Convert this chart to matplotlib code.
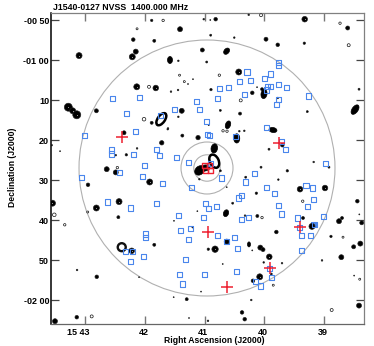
import numpy as np
import matplotlib
matplotlib.use("Agg")
import matplotlib.pyplot as plt
from matplotlib.collections import EllipseCollection
from matplotlib.patches import Ellipse
from matplotlib.transforms import ScaledTranslation

plt.rcParams['font.family'] = ['Liberation Sans', 'DejaVu Sans']

TITLE = "J1540-0127 NVSS  1400.000 MHz"
XLABEL = "Right Ascension (J2000)"
YLABEL = "Declination (J2000)"
ra_ticks = [0, 60, 120, 180, 240]               # seconds of time west of 15 43 00
ra_labels = ["15 43", "42", "41", "40", "39"]
dec_ticks = [50, 60, 70, 80, 90, 100, 110, 120] # arcmin south of 00 00
dec_labels = ["-00 50", "-01 00", "10", "20", "30", "40", "50", "-02 00"]

# Catalogue boxes: (RA seconds west of 15 43, Dec arcmin south)
box_ra = [27.8,54.3,40.9,89.8,75.1,50.7,-1.3,26.1,26.8,48.9,71.1,74.8,91.5,59,33.9,103.9,
          193.7,193.7,162.5,186.6,179.6,154.8,165.8,144.4,134.4,194,202.4,186.6,182.9,181.9,
          159.8,133.1,112,114.6,194,191.7,224.5,122,182.3,123,125.3,151.2,197,200.7,241.6,
          170.5,-4.3,57.3,77.8,22.5,45.9,71.1,93.9,95.5,60.3,60.3,103.9,39.9,47.9,45.9,58.7,
          100.5,94.5,97.2,136.7,161.2,106.7,182.3,190.3,221.8,228.8,229.5,223.5,193.7,196.7,
          157.2,153.8,132,123.6,120.3,118.3,156.8,164.5,212.8,239.2,230.1,215.1,216.8,226.5,
          106.2,133.1,150.4,141.9,153,217.1,152.2,119.8,185.6,187.3,170.9,175.6,125.6]
box_dec = [69.6,69.4,73.3,72.3,73.8,77.8,78.9,82.5,83.5,83.7,82.4,83.8,84.3,86.3,88.1,85.7,
           60.6,61.4,63,63.5,64.6,65.4,65.2,66.8,67.2,66.2,66.8,66.7,66.7,67.5,
           68.7,69.6,70.3,72.4,69.8,71.1,69,75.3,76.8,78.7,78.9,79.2,80.4,82.4,85.8,
           88.3,89.3,89.1,90.8,95.5,97,95.9,98.8,102.7,103.5,104.3,104.9,107.9,107.8,110.3,109.2,
           109.9,113.7,116,89.5,90.5,91.8,91.8,93.3,91.3,92,94.9,96.6,96.3,98.5,
           93.9,94.5,96.7,97.2,95.9,99.4,99.8,99.4,99.5,99.1,101.2,101.8,103.9,103.8,
           102.1,103.9,104.3,105.4,107.1,107.6,112.8,113.7,112.2,114.3,115.3,116.5,85.8]
shaded_ra = [151.2, 230.1, 141.9]
shaded_dec = [79.2, 101.2, 105.4]

core_ra = [120, 124.6, 121, 126]
core_dec = [86.4, 86.4, 87.7, 87.7]

cross_ra = [36.9, 194.7, 123.3, 216.1, 185.6, 142.7]
cross_dec = [79.2, 80.8, 103, 101.8, 112.1, 116.8]

# Compact radio sources: position and apparent diameter (arcmin)
src_ra = [66.7,95.2,48.2,69.3,-6.3,50.7,47.2,93.5,51.7,70.8,86.1,93.2,-17.1,-12.7,-8.6,11.1,96.9,93.5,
          66.7,83.1,38.9,97.5,76.8,-33.8,-25.4,52,30.6,41.2,21.5,30.6,2.7,64.7,-33,11.1,33.9,33.2,89.1,
          69.3,46.6,-8.3,11.5,88.8,101.9,-8.6,119,125.6,131,164.2,220.5,263.7,126,149.7,181.6,193.4,220.1,
          117.6,122,154.2,108.2,103.2,126.3,167.8,177.6,172.6,193.4,275.1,223.1,135.7,155.5,124,154.8,159.8,
          113.3,198,184.6,229.5,244.9,176.6,203,135.7,114.6,82.8,161.2,142.1,148.1,112.6,107.9,123.6,130.4,
          142.1,138.1,116.3,194,171.9,215.8,240.9,273.4,172.9,160.5,218.8,255,258,275.4,277.8,227.8,192,246.9,
          175.9,178.6,184.9,167.8,269.7,276.4,257.3,237.9,197.7,179.3,186.9,175.3,168.5,270.2,166.8,157.5,
          275.1,160.2,123.3,104.2,54,-30.5]
src_dec = [50.1,52.3,54.9,55.2,58.9,57.9,59.2,60.2,66.7,67,67.9,67.5,71.8,72.7,73.7,72.7,72.7,74.2,
           75.7,77.1,78.2,78.9,80.7,81.3,82.8,82.1,83.8,83.7,87.3,88.1,91.2,90.5,95.8,97,95.4,99.3,100.2,
           106.2,107.7,112.5,114.2,119.3,119.8,124.3,49.8,50,49.8,48.7,49.8,52,53.8,54.4,54.8,56.2,55.8,
           57.5,60.5,63,64.8,66,67.4,68.2,67.3,66.8,69.5,67.3,72.9,72.6,73.4,76.3,77.8,77.7,
           79.4,81.3,82.3,85.5,86.8,86.8,87.7,87.7,89.8,77.3,89.3,91.8,95.8,97.8,101.8,107.3,107.3,
           105.4,111,117.9,89.9,93.3,92.3,92,95.3,99,98.9,99.5,100.3,99.5,98.6,100.7,101.6,103,104.1,
           106.9,107.4,109.2,107.6,106.7,105.9,109.3,110.1,110.8,110.6,113.5,114.2,115.2,113.9,120,123.1,
           121.4,124.8,125.2,124.5,114.3,125.3]
src_size = [.6,1.25,.9,.75,1.5,1.25,1.5,.4,1.5,1.4,.4,.4,2,1.5,2,1,1.25,.4,
            .75,.4,1,.75,1.1,.4,.25,.4,.4,.6,1.25,1.25,.9,1.5,1.5,1.5,1.5,.75,.25,
            .75,1.4,.4,.9,.25,.75,.9,.4,.25,.9,.4,1.4,1,.5,.4,1,.9,.6,
            1,.5,1.5,.25,.25,.6,.9,.75,.25,.4,.5,.5,.5,.75,.25,.4,.4,
            1.1,.9,.5,.4,.5,.5,.6,.5,.4,.4,.5,.25,.5,.25,.4,.6,1.6,
            1.25,.25,.25,.4,.6,1.4,1.4,.9,.75,.4,.75,1.25,.75,.25,1,1.5,.9,.6,
            1.25,1,1.4,.25,1,1.25,1.25,.4,.4,.4,.5,1.5,.9,.25,.4,.9,
            1.25,.9,.4,.25,.25,1.25]

# Faint sources drawn as single open contours
ring_ra = [78.2,52,94.7,99.5,64,59,32.2,-31.2,2.4,-20.7,6.4,176.6,256,134.7,156.2,138.4,142.4,218.5,177.6,
           259,188.9,275.8,247.6,264.7,36.6]
ring_dec = [50.1,52.2,63.8,65.4,66.7,74.8,86.9,98.7,98,101.2,124.1,48.8,50.8,63.8,70.1,77.7,77.8,95.3,99.4,
            104.3,116.3,114.8,122.5,56.3,106.8]
ring_size = [.6,.5,.5,.5,.75,.9,.6,.9,.5,.6,.75,.75,.6,.6,.75,.6,.6,.6,.6,.5,.5,.5,.75,.75,2]

# Extended sources: major, minor axis (arcmin), position angle on the sky picture (deg)
ext_ra = [85.1,179.6,271.1,142,143.4,188.6,152.2,129.6,141.4,164.5,114.9,120.3]
ext_dec = [60,68.5,72.4,57.8,76.2,77.5,79.6,82.1,98.3,106.1,87.6,87]
ext_major = [1.75,2.3,2.7,1.75,2,2,2.3,2.3,1.75,1.25,2.7,2.5]
ext_minor = [1.25,1.5,1.5,1.25,1.25,1.25,1.5,1.6,1.25,.75,2.1,1.5]
ext_angle = [90,80,55,50,70,-10,90,80,70,90,40,10]

lobe_ra = [76.4, 129.6]
lobe_dec = [74.8, 85.3]
lobe_major = [3.5, 3.5]
lobe_minor = [1.8, 2.2]
lobe_angle = [55, -65]

circle_ra, circle_dec = 122.3, 87.0
circle_radii = [3.3, 6.5, 32.0]   # arcmin

PX = 0.72                # points per pixel at dpi 100
ARCMIN_PX = 4.0
def pts(a):
    return (np.asarray(a, float) * ARCMIN_PX * PX)

fig = plt.figure(figsize=(3.74, 3.46), dpi=100, facecolor='white')
ax = fig.add_axes([51.3/374, 1-324/346, 313/374, 311.3/346])
ax.set_xlim(-34.2, 280.4)
ax.set_ylim(126, 48.175)

BLUE = '#4a86ec'
RED = '#ee2030'

for r in circle_radii:
    ax.add_patch(Ellipse((circle_ra, circle_dec), 2*r*4.02, 2*r, fill=False,
                         ec='#b0b0b0', lw=0.8, zorder=2))

ax.scatter(shaded_ra, shaded_dec, s=14, marker='s', c=BLUE, lw=0, zorder=2.5)
ax.scatter(src_ra, src_dec, s=pts(src_size)**2, c='k', edgecolors='#222222', lw=0.45, zorder=3)
big = [i for i, v in enumerate(src_size) if v >= 1.4]
ax.scatter([src_ra[i] for i in big], [src_dec[i] for i in big], s=0.5, c='#999999', lw=0, zorder=3.2)
ax.scatter(ring_ra, ring_dec, s=pts(ring_size)**2, facecolors='white', edgecolors='#111111',
           lw=[1.7 if v > 1.5 else 0.5 for v in ring_size], zorder=3)

ax.add_collection(EllipseCollection(pts(ext_major), pts(ext_minor), ext_angle, units='points',
                                    offsets=np.column_stack([ext_ra, ext_dec]),
                                    offset_transform=ax.transData, facecolors='k',
                                    edgecolors='k', linewidths=0.5, zorder=3))
ax.add_collection(EllipseCollection(pts(lobe_major), pts(lobe_minor), lobe_angle, units='points',
                                    offsets=np.column_stack([lobe_ra, lobe_dec]),
                                    offset_transform=ax.transData, facecolors='white',
                                    edgecolors='k', linewidths=1.8, zorder=3))

ax.scatter(box_ra, box_dec, s=13, marker='s', facecolors='none', edgecolors=BLUE, lw=0.8, zorder=4)
ax.scatter(core_ra, core_dec, s=13, marker='s', facecolors='none', edgecolors=RED, lw=1.0, zorder=5)
ax.scatter(cross_ra, cross_dec, s=85, marker='+', c=RED, lw=1.1, zorder=6)

ax.set_xticks(ra_ticks, ra_labels)
ax.set_yticks(dec_ticks, dec_labels)
ax.tick_params(axis='x', which='major', direction='in', top=True, length=5.8, width=1.0,
               color='#777777', labelsize=6.5, pad=3.0)
ax.tick_params(axis='y', which='major', direction='in', right=True, length=5.8, width=0.9,
               color='#444444', labelsize=6.5, pad=1.6)
for lab in ax.get_xticklabels() + ax.get_yticklabels():
    lab.set_fontweight('bold')
for lab, dx in zip(ax.get_xticklabels(), [-7.3, -1.7, -1.4, -1.8, -1.7]):
    lab.set_transform(lab.get_transform() + ScaledTranslation(dx/100, 0, fig.dpi_scale_trans))

for side, col, w in [('left', 'k', 1.1), ('top', '#808080', 0.9),
                     ('right', '#808080', 0.9), ('bottom', '#666666', 0.9)]:
    ax.spines[side].set_color(col)
    ax.spines[side].set_linewidth(w)

fig.text(52.7/374, 1-9.5/346, TITLE, fontsize=6.35, fontweight='bold', ha='left', va='baseline')
fig.text(214.5/374, 1-340.5/346, XLABEL, fontsize=6.25, fontweight='bold', ha='center', va='center')
fig.text(13/374, 1-167/346, YLABEL, fontsize=6.25, fontweight='bold', ha='center', va='center',
         rotation=90)

fig.savefig('out.png', dpi=100)
